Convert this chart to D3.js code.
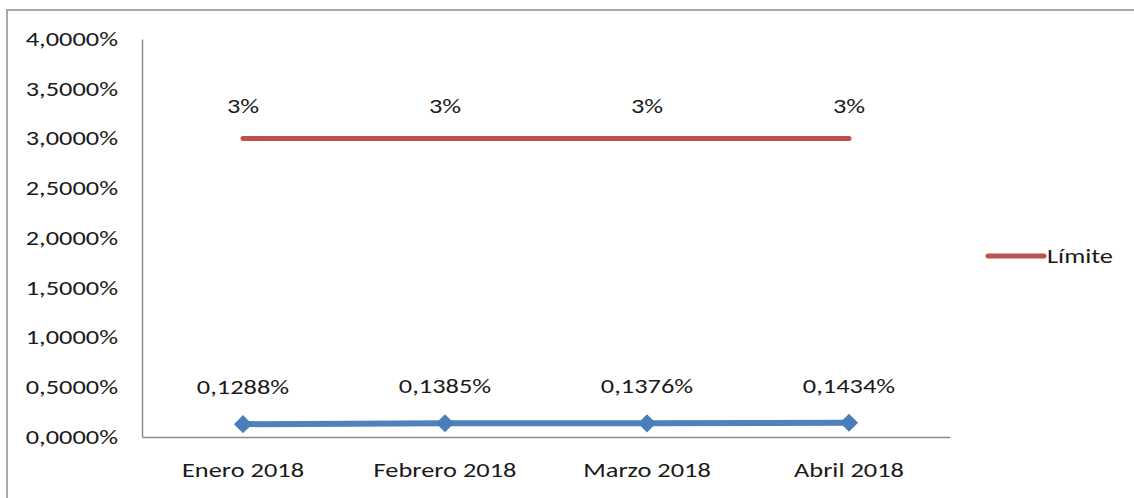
<!DOCTYPE html>
<html>
<head>
<meta charset="utf-8">
<script src="https://cdn.jsdelivr.net/npm/d3@7"></script>
<style>
  body { margin: 0; background: #fff; }
  svg text { font-family: Carlito, Lato, "Open Sans", sans-serif; fill: #1a1a1a; }
</style>
</head>
<body>
<div id="chart"></div>
<script>
// chart values
const categories = ['Enero 2018', 'Febrero 2018', 'Marzo 2018', 'Abril 2018'];
const indicador = [0.1288, 0.1385, 0.1376, 0.1434];
const limite = [3, 3, 3, 3];
const yTicks = [0, 0.5, 1, 1.5, 2, 2.5, 3, 3.5, 4];
const legendLabel = 'Límite';

const width = 1134, height = 498;
const margin = { left: 142, right: 184, top: 39, bottom: 61 };
const fontSize = 20;
const stretchX = 1.32; // the source render is wider than the glyphs

const svg = d3.select('#chart').append('svg')
    .attr('width', width)
    .attr('height', height);

// widen text horizontally around its anchor point
function stretch(sel) {
    sel.each(function() {
        const t = d3.select(this);
        const tx = +t.attr('x') || 0;
        const ty = +t.attr('y') || 0;
        t.attr('x', 0).attr('y', 0)
            .attr('transform', `translate(${tx},${ty}) scale(${stretchX},1)`);
    });
}

// outer chart frame
svg.append('rect')
    .attr('x', 7).attr('y', 10)
    .attr('width', width + 10).attr('height', height + 10)
    .attr('fill', 'none')
    .attr('stroke', '#a9a9a9')
    .attr('stroke-width', 2);

const x = d3.scaleBand()
    .domain(categories)
    .range([margin.left, width - margin.right]);

const y = d3.scaleLinear()
    .domain([0, 4])
    .range([height - margin.bottom, margin.top]);

const fmtPct = v => d3.format('.4f')(v).replace('.', ',') + '%';

// y axis
const yAxis = svg.append('g')
    .attr('transform', `translate(${margin.left},0)`)
    .call(d3.axisLeft(y).tickValues(yTicks).tickSize(0).tickPadding(24).tickFormat(fmtPct));
yAxis.select('.domain').attr('stroke', '#8c8c8c').attr('stroke-width', 1.5);
yAxis.selectAll('text').attr('font-size', fontSize).style('font-family', null).call(stretch);

// x axis
const xAxis = svg.append('g')
    .attr('transform', `translate(0,${y(0)})`)
    .call(d3.axisBottom(x).tickSize(0).tickPadding(26));
xAxis.select('.domain').attr('stroke', '#8c8c8c').attr('stroke-width', 1.5);
xAxis.selectAll('text').attr('font-size', fontSize).style('font-family', null).call(stretch);

const cx = d => x(d) + x.bandwidth() / 2;

const line = d3.line()
    .x((d, i) => cx(categories[i]))
    .y(d => y(d));

// limit line
svg.append('path')
    .datum(limite)
    .attr('d', line)
    .attr('fill', 'none')
    .attr('stroke', '#c0504d')
    .attr('stroke-width', 5)
    .attr('stroke-linecap', 'round');

svg.selectAll('text.lim-label')
    .data(limite)
    .join('text')
    .attr('class', 'lim-label')
    .attr('x', (d, i) => cx(categories[i]))
    .attr('y', d => y(d) - 26)
    .attr('text-anchor', 'middle')
    .attr('font-size', fontSize)
    .text(d => d + '%')
    .call(stretch);

// indicator series
svg.append('path')
    .datum(indicador)
    .attr('d', line)
    .attr('fill', 'none')
    .attr('stroke', '#4f81bd')
    .attr('stroke-width', 6);

svg.selectAll('path.marker')
    .data(indicador)
    .join('path')
    .attr('class', 'marker')
    .attr('d', d3.symbol(d3.symbolDiamond2, 210))
    .attr('transform', (d, i) => `translate(${cx(categories[i])},${y(d)})`)
    .attr('fill', '#4a7ebb');

svg.selectAll('text.ind-label')
    .data(indicador)
    .join('text')
    .attr('class', 'ind-label')
    .attr('x', (d, i) => cx(categories[i]))
    .attr('y', d => y(d) - 30)
    .attr('text-anchor', 'middle')
    .attr('font-size', fontSize)
    .text(fmtPct)
    .call(stretch);

// legend
const lg = svg.append('g').attr('transform', 'translate(988,256)');
lg.append('line')
    .attr('x1', 0).attr('x2', 56)
    .attr('stroke', '#c0504d')
    .attr('stroke-width', 5)
    .attr('stroke-linecap', 'round');
lg.append('text')
    .attr('x', 59).attr('y', 7)
    .attr('font-size', fontSize)
    .text(legendLabel)
    .call(stretch);
</script>
</body>
</html>
